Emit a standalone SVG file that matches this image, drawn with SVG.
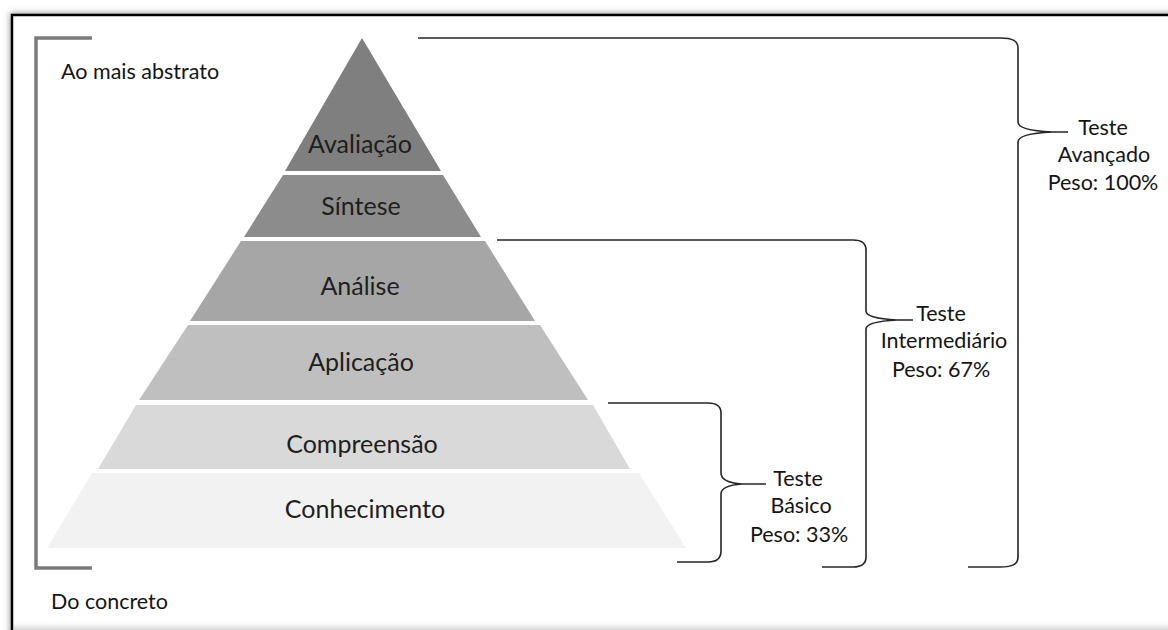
<svg xmlns="http://www.w3.org/2000/svg" width="1168" height="630" viewBox="0 0 1168 630">
  <defs>
    <filter id="shadow" x="-5%" y="-5%" width="110%" height="110%">
      <feGaussianBlur stdDeviation="3"/>
    </filter>
    <linearGradient id="bottomShade" x1="0" y1="0" x2="0" y2="1">
      <stop offset="0" stop-color="#ffffff"/>
      <stop offset="1" stop-color="#d6d6d6"/>
    </linearGradient>
  </defs>
  <style>
    .lvl { font-family: Lato, "Liberation Sans", sans-serif; font-size: 25px; fill: #1e1e1e; text-anchor: middle; }
    .lbl { font-family: Lato, "Liberation Sans", sans-serif; font-size: 21.5px; fill: #141414; }
    .mid { text-anchor: middle; }
    .brace { fill: none; stroke: #262626; stroke-width: 1.6; }
    .bracket { fill: none; stroke: #7a7a7a; stroke-width: 3.5; }
  </style>
  <rect x="0" y="0" width="1168" height="630" fill="#ffffff"/>
  <!-- frame with shadow -->
  <rect x="10" y="13" width="1180" height="640" fill="#9a9a9a" filter="url(#shadow)"/>
  <rect x="12" y="15" width="1180" height="640" fill="#ffffff" stroke="#000000" stroke-width="2.5"/>
  <rect x="14" y="623" width="1154" height="7" fill="url(#bottomShade)"/>

  <!-- left bracket -->
  <g id="bracket-left">
    <path class="bracket" d="M92,38 H36 V568 H92"/>
    <text class="lbl" x="61" y="79">Ao mais abstrato</text>
    <text class="lbl" x="51" y="609">Do concreto</text>
  </g>

  <!-- pyramid levels -->
  <g id="avaliacao">
    <polygon points="362,38 441,171 285,171" fill="#7f7f7f"/>
    <text class="lvl" x="360" y="153">Avaliação</text>
  </g>
  <g id="sintese">
    <polygon points="283,175 443,175 481,237 244,237" fill="#8c8c8c"/>
    <text class="lvl" x="361" y="215">Síntese</text>
  </g>
  <g id="analise">
    <polygon points="241,241 485,241 535,321 190,321" fill="#a6a6a6"/>
    <text class="lvl" x="360" y="295">Análise</text>
  </g>
  <g id="aplicacao">
    <polygon points="188,325 540,325 588,400 139,400" fill="#bfbfbf"/>
    <text class="lvl" x="361" y="371">Aplicação</text>
  </g>
  <g id="compreensao">
    <polygon points="136,405 593,405 630,469 98,469" fill="#d9d9d9"/>
    <text class="lvl" x="362" y="453">Compreensão</text>
  </g>
  <g id="conhecimento">
    <polygon points="92,473 639,473 686,548 47,548" fill="#f2f2f2"/>
    <text class="lvl" x="365" y="518">Conhecimento</text>
  </g>

  <!-- connectors (braces) -->
  <g id="connectors">
    <path class="brace" d="M418,38 H1000 C1013,38 1018,41 1018,48 V122 C1018,128 1030,131 1052,132 C1030,133 1018,136 1018,142 V557 C1018,564 1013,567 1000,567 H968 M1052,132 H1068"/>
    <path class="brace" d="M497,240 H853 C862,240 866,243 866,250 V311 C866,316 878,319 897,320 C878,321 866,324 866,329 V557 C866,564 862,567 853,567 H822 M897,320 H913"/>
    <path class="brace" d="M608,403 H708 C717,403 721,406 721,413 V473 C721,479 728,483 742,484 C728,485 721,488 721,494 V551 C721,558 717,562 708,562 H677 M742,484 H766"/>
  </g>

  <g id="teste-avancado">
    <text class="lbl mid" x="1103" y="135">Teste</text>
    <text class="lbl mid" x="1104" y="162">Avançado</text>
    <text class="lbl mid" x="1103" y="190">Peso: 100%</text>
  </g>
  <g id="teste-intermediario">
    <text class="lbl mid" x="941" y="321">Teste</text>
    <text class="lbl mid" x="944" y="348">Intermediário</text>
    <text class="lbl mid" x="941" y="377">Peso: 67%</text>
  </g>
  <g id="teste-basico">
    <text class="lbl mid" x="798" y="486">Teste</text>
    <text class="lbl mid" x="801" y="513">Básico</text>
    <text class="lbl mid" x="799" y="542">Peso: 33%</text>
  </g>
</svg>
